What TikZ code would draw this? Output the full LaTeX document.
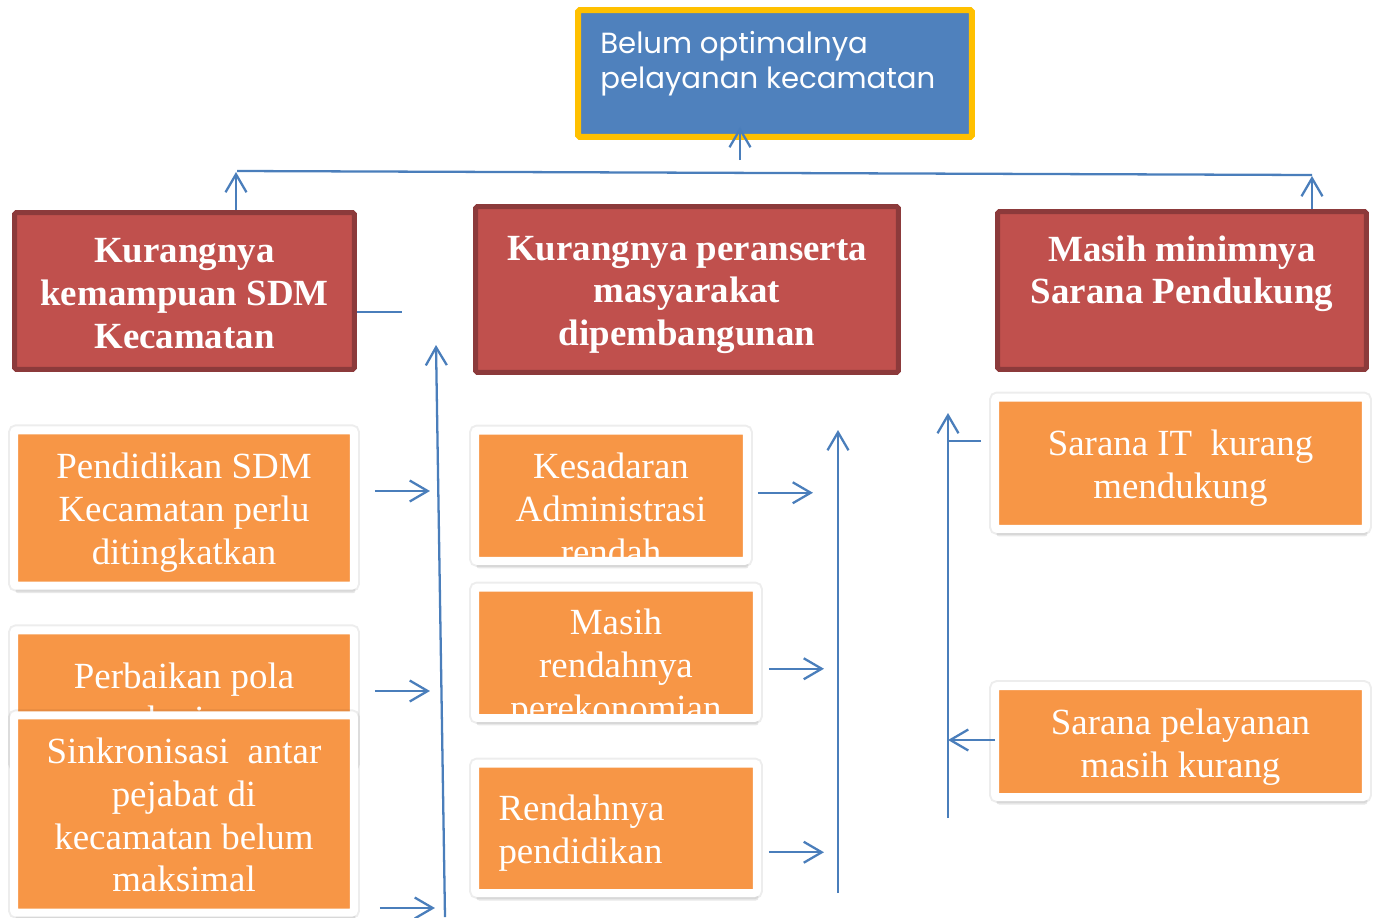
\documentclass[tikz,border=0pt]{standalone}
\usepackage{fontspec}
\setmainfont{Liberation Serif}
\newfontfamily\judulfont{Poppins}
\usetikzlibrary{arrows.meta,shadows}
\definecolor{oranye}{HTML}{F79646}
\definecolor{merah}{HTML}{C0504D}
\definecolor{merahtua}{HTML}{8C3A3B}
\definecolor{biru}{HTML}{4F81BD}
\definecolor{kuning}{HTML}{FFC000}
\definecolor{garis}{HTML}{4A7EBB}
\tikzset{
  akar/.style={rectangle,draw=kuning,line width=0.12cm,fill=biru,rounded corners=1pt,
    minimum width=7.88cm,minimum height=2.54cm},
  sebab/.style={rectangle,draw=merahtua,line width=0.1cm,fill=merah,rounded corners=1pt,
    text=white,align=center,inner sep=0pt,font=\bfseries\fontsize{21}{24.4}\selectfont},
  isu/.style={rectangle,draw=white,line width=0.16cm,fill=oranye,rounded corners=1.5pt,
    drop shadow={shadow xshift=0.03cm,shadow yshift=-0.15cm,opacity=0.18},
    preaction={draw=black,draw opacity=0.07,line width=0.24cm}},
  tulisan/.style={text=white,inner sep=0pt,minimum width=0pt,minimum height=0pt,
    font=\fontsize{21}{24.4}\selectfont},
  isi/.style 2 args={path picture={\node[tulisan,align=center]
    at ([yshift=-#1]path picture bounding box.center) {#2};}},
  isikiri/.style 2 args={path picture={\node[tulisan,align=left,anchor=west]
    at ([shift={(0.39cm,-#1)}]path picture bounding box.west) {#2};}},
  hubung/.style={draw=garis,line width=1.3pt},
}
\begin{document}
\begin{tikzpicture}[x=0.02cm,y=-0.02cm,>={Straight Barb[length=0.36cm,width=0.42cm]}]
\useasboundingbox (0,0) rectangle (1373,917);
% masalah utama
\node (masalah) at (775,73.5) [akar] {};
\node (judul) at (600,30.5) [anchor=north west,text=white,align=left,inner sep=0pt,
  font=\judulfont\fontsize{16.6}{19.9}\selectfont] {Belum optimalnya\\pelayanan kecamatan};
% penyebab
\node (sdm) at (184.5,291) [sebab,minimum width=6.8cm,minimum height=3.14cm] {\rule{0pt}{0.6cm}Kurangnya\\kemampuan SDM\\Kecamatan};
\node (peran) at (687,289.5) [sebab,minimum width=8.46cm,minimum height=3.32cm] {\rule{0pt}{0.7cm}Kurangnya peranserta\\masyarakat\\dipembangunan};
\node (sarana) at (1182,290.5) [sebab,minimum width=7.38cm,minimum height=3.16cm] {Masih minimnya\\Sarana Pendukung\\[-0.28cm]\strut};
% isu kiri
\node (didik) at (184,508) [isu,minimum width=6.8cm,minimum height=3.11cm,isi={0.1cm}{Pendidikan SDM\\Kecamatan perlu\\ditingkatkan}] {};
\node (pola) at (184,698) [isu,minimum width=6.8cm,minimum height=2.71cm,isi={0.06cm}{Perbaikan pola\\kerja}] {};
\node (sinkron) at (184,814) [isu,minimum width=6.8cm,minimum height=3.95cm,isi={0.02cm}{Sinkronisasi\ \ antar\\pejabat di\\kecamatan belum\\maksimal}] {};
% isu tengah
\node (sadar) at (611,495.75) [isu,minimum width=5.44cm,minimum height=2.61cm,isi={0.26cm}{Kesadaran\\Administrasi\\rendah}] {};
\node (ekonomi) at (616,652.75) [isu,minimum width=5.64cm,minimum height=2.61cm,isi={0.32cm}{Masih\\rendahnya\\perekonomian}] {};
\node (rendah) at (616,828.25) [isu,minimum width=5.64cm,minimum height=2.59cm,isikiri={0.1cm}{Rendahnya\\pendidikan}] {};
% isu kanan
\node (it) at (1180.5,463.25) [isu,minimum width=7.42cm,minimum height=2.63cm,isi={0.1cm}{Sarana IT\ \ kurang\\mendukung}] {};
\node (layan) at (1180.5,741.5) [isu,minimum width=7.42cm,minimum height=2.22cm,isi={0.12cm}{Sarana pelayanan\\masih kurang}] {};
% garis penghubung
\coordinate (kiribawah) at (445,917);
\coordinate (kiriatas) at (436,345);
\coordinate (tengahbawah) at (838,893);
\coordinate (tengahatas) at (838,430);
\coordinate (kananbawah) at (948,818);
\coordinate (kananatas) at (948,413);
\coordinate (bataskiri) at (237,171);
\coordinate (bataskanan) at (1312,175);
\coordinate (atas1) at (236,172);
\coordinate (atas3) at (1312,176);
\coordinate (tunas) at (740,160);
\draw [hubung] (bataskiri) -- (bataskanan);
\draw [hubung,->] (atas1 |- sdm.north) -- (atas1);
\draw [hubung,->] (atas3 |- sarana.north) -- (atas3);
\draw [hubung,->] (tunas) -- ([yshift=0.26cm]tunas |- masalah.south);
\draw [hubung] ([shift={(0,21)}]sdm.east) -- +(45,0);
\draw [hubung,->] (kiribawah) -- (kiriatas);
\draw [hubung,->] (tengahbawah) -- (tengahatas);
\draw [hubung,->] (kananbawah) -- (kananatas);
\draw [hubung,->] ([shift={(17,-17)}]didik.east) -- +(55,0);
\draw [hubung,->] ([shift={(17,-7)}]pola.east) -- +(55,0);
\draw [hubung,->] ([shift={(22,94)}]sinkron.east) -- +(55,0);
\draw [hubung,->] ([shift={(7,-3)}]sadar.east) -- +(55,0);
\draw [hubung,->] ([shift={(8,16)}]ekonomi.east) -- +(55,0);
\draw [hubung,->] ([shift={(8,24)}]rendah.east) -- +(55,0);
\draw [hubung] ([shift={(-10,-22)}]it.west) -- +(-33,0);
\draw [hubung,->] ([shift={(4,-1.5)}]layan.west) -- +(-47,0);
\end{tikzpicture}
\end{document}
